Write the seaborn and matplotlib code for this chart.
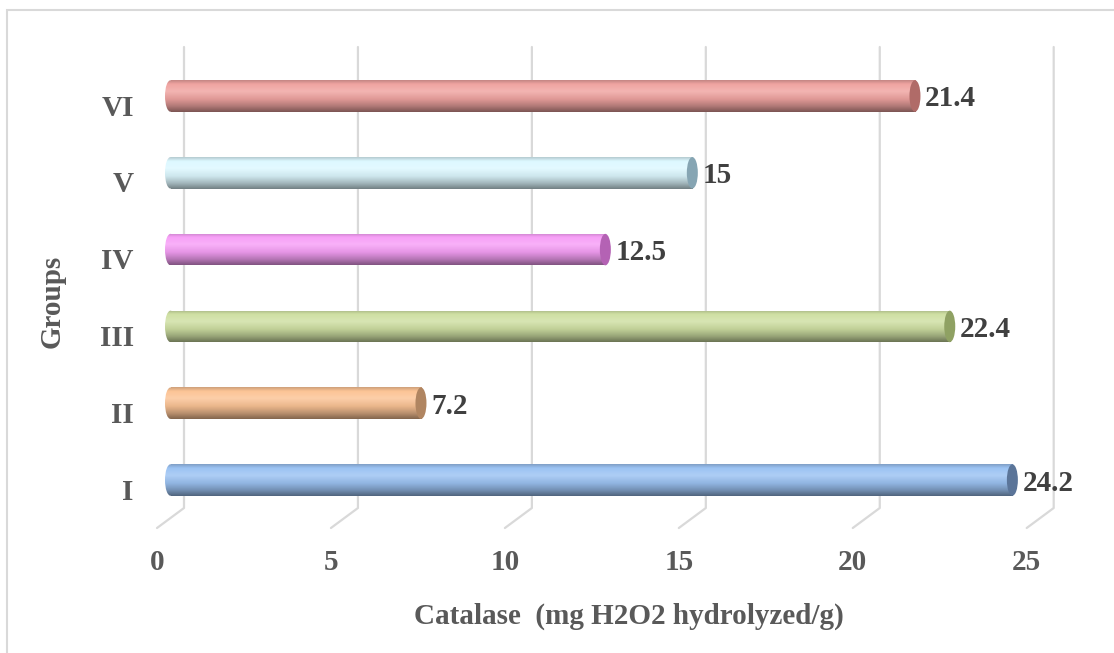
import numpy as np
import pandas as pd
import matplotlib
matplotlib.use("Agg")
import matplotlib.pyplot as plt
import seaborn as sns
from matplotlib.patches import Ellipse, Rectangle
from matplotlib.lines import Line2D
from matplotlib.colors import to_rgb, LinearSegmentedColormap
from matplotlib.transforms import ScaledTranslation, IdentityTransform

# ---- data -------------------------------------------------------------
groups = ["VI", "V", "IV", "III", "II", "I"]
catalase = [21.4, 15, 12.5, 22.4, 7.2, 24.2]
x_ticks = [0, 5, 10, 15, 20, 25]
bar_colors = ["#F0A4A1", "#DDF8FF", "#F7A0F7", "#CFE0A3", "#FCC496", "#9CC3F3"]
cap_colors = ["#B06B68", "#86A5B3", "#B462B4", "#8FA163", "#B08561", "#5B7599"]

x_title = "Catalase  (mg H2O2 hydrolyzed/g)"
y_title = "Groups"

# ---- style ------------------------------------------------------------
sns.set_theme(style="white")
plt.rcParams["font.family"] = ["Liberation Serif", "DejaVu Serif"]
plt.rcParams["font.weight"] = "bold"
FS = 21

W, H = 1114, 653
DPI = 100
fig = plt.figure(figsize=(W / DPI, H / DPI), dpi=DPI)
fig.patch.set_facecolor("white")

# bar plane: value 0 at x=170.5 px, value 25 at x=1040 px
px0, px25 = 170.5, 1040.2
ytop, ybot = 47, 508
ax = fig.add_axes([px0 / W, 1 - ybot / H, (px25 - px0) / W, (ybot - ytop) / H])
ax.patch.set_alpha(0)

df = pd.DataFrame({"group": groups, "value": catalase})
bar_h = 0.41
sns.barplot(data=df, x="value", y="group", hue="group", order=groups,
            hue_order=groups, palette=bar_colors, orient="h", width=bar_h,
            legend=False, ax=ax, zorder=2)

YLIM = (5 + 28 / 76.8, -49 / 76.8)
XLIM = (0, 25)
ax.set_xlim(*XLIM)
ax.set_ylim(*YLIM)


def shade(c, f):
    c = np.array(to_rgb(c))
    return tuple(np.clip(c * f, 0, 1))


def tint(c, f):
    c = np.array(to_rgb(c))
    return tuple(np.clip(c + (1 - c) * f, 0, 1))


cap_w = 11 / ((px25 - px0) / 25)
grad = np.linspace(0, 1, 64).reshape(-1, 1)

for patch, val, base, cap in zip(ax.patches, catalase, bar_colors, cap_colors):
    patch.set_edgecolor("none")
    y = patch.get_y() + patch.get_height() / 2
    cmap = LinearSegmentedColormap.from_list(
        "cyl",
        [(0.0, shade(base, 0.82)), (0.12, base), (0.35, tint(base, 0.18)),
         (0.6, shade(base, 0.93)), (0.82, shade(base, 0.74)),
         (1.0, shade(base, 0.52))])
    ext = (-cap_w / 2, val, y + bar_h / 2, y - bar_h / 2)
    body = ax.imshow(grad, cmap=cmap, extent=ext, aspect="auto",
                     origin="upper", zorder=3, interpolation="bilinear")
    body.set_clip_path(patch)
    # rounded near end of the cylinder
    left = Ellipse((0, y), cap_w, bar_h, transform=ax.transData)
    lcap = ax.imshow(grad, cmap=cmap, extent=ext, aspect="auto",
                     origin="upper", zorder=3, interpolation="bilinear")
    lcap.set_clip_path(left)
    lcap.set_clip_box(fig.bbox)
    # far end cap
    ax.add_patch(Ellipse((val, y), cap_w, bar_h, facecolor=cap,
                         edgecolor="none", zorder=4))
    ax.text(val, y, f"{val:g}", ha="left", va="center", fontsize=FS,
            fontweight="bold", color="#404040", zorder=5,
            transform=ax.transData + ScaledTranslation(10 / DPI, -3 / DPI, fig.dpi_scale_trans))

ax.set_xlim(*XLIM)
ax.set_ylim(*YLIM)

# axes furniture
for s in ax.spines.values():
    s.set_visible(False)
ax.set_xlabel("")
ax.set_ylabel("")
ax.set_xticks(x_ticks)
ax.set_xticklabels([])
ax.tick_params(axis="x", length=0)
ax.tick_params(axis="y", length=0, pad=26.5, labelsize=FS, labelcolor="#595959")
for lab in ax.get_yticklabels():
    lab.set_fontweight("bold")
    lab.set_transform(lab.get_transform() + ScaledTranslation(0, -9 / DPI, fig.dpi_scale_trans))

# back-wall gridlines with perspective floor, and front tick labels
fig.canvas.draw()
for t in x_ticks:
    xd = ax.transData.transform((t, 0))[0]
    bx = xd + 13.5
    line = Line2D([bx, bx, bx - 27], [H - ytop, H - ybot, H - ybot - 20],
                  color="#D9D9D9", lw=1.6, transform=IdentityTransform(), zorder=-1)
    fig.add_artist(line)
    fig.text((xd - 13.5) / W, 1 - 562 / H, str(t), ha="center", va="center",
             fontsize=FS, fontweight="bold", color="#595959")

fig.text(629 / W, 1 - 616 / H, x_title, ha="center", va="center",
         fontsize=FS, fontweight="bold", color="#595959")
fig.text(52 / W, 1 - 301 / H, y_title, ha="center", va="center", rotation=90,
         fontsize=FS, fontweight="bold", color="#595959")

# chart-area border
fig.add_artist(Rectangle((7 / W, -0.1), 1.2, 1 - 10.5 / H + 0.1,
                         transform=fig.transFigure, fill=False,
                         edgecolor="#D9D9D9", lw=1.5, zorder=-2))

fig.savefig("out.png", dpi=DPI)
